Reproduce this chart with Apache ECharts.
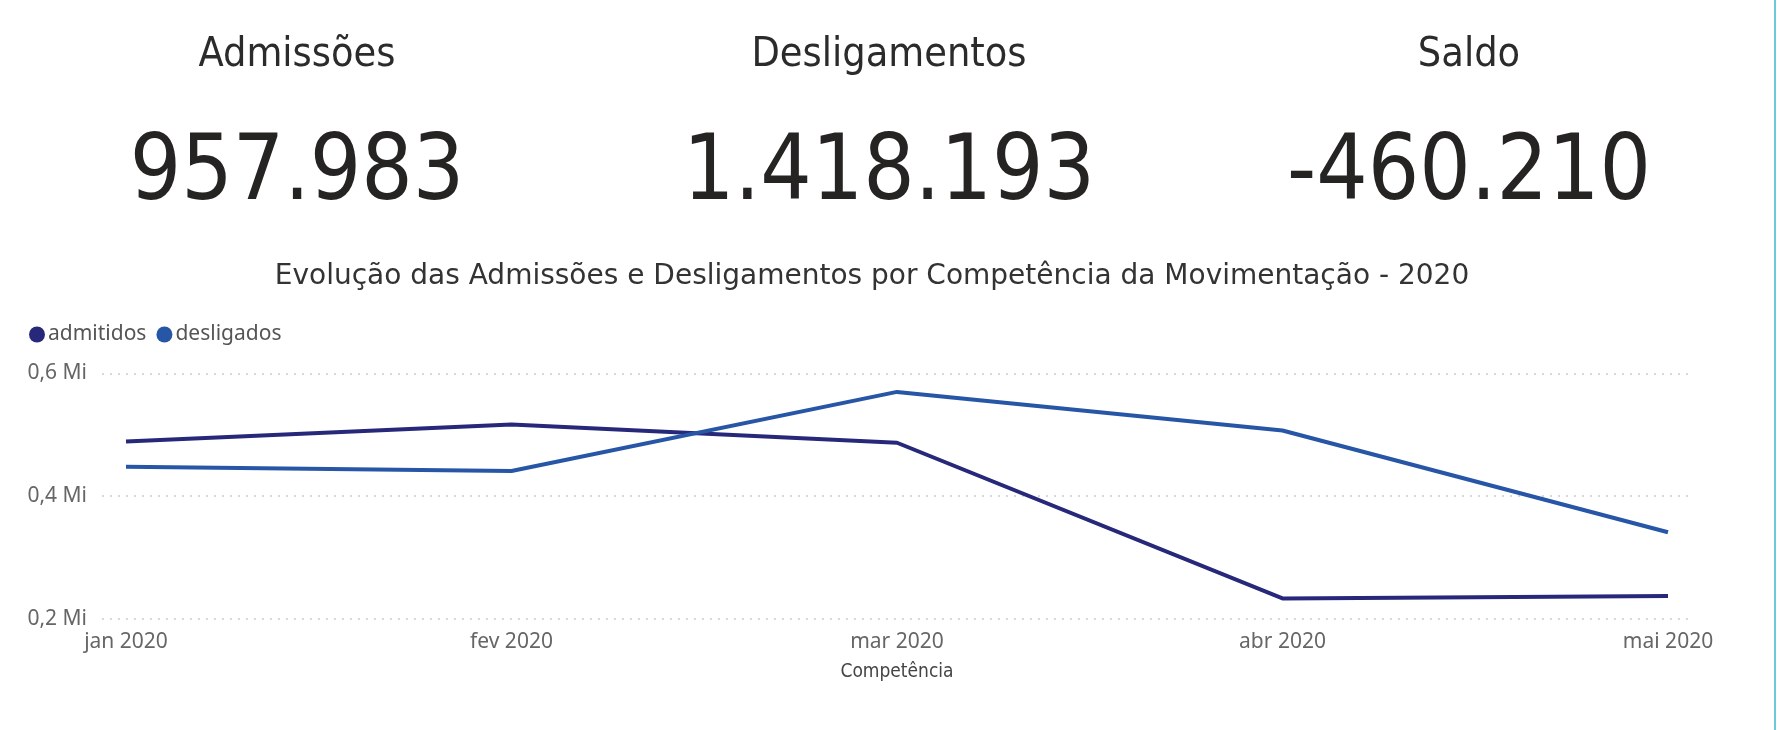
<!DOCTYPE html>
<html>
<head>
<meta charset="utf-8">
<script src="https://cdn.jsdelivr.net/npm/echarts@6/dist/echarts.min.js"></script>
<style>
  html, body { margin: 0; padding: 0; background: #ffffff; }
  #chart { width: 1780px; height: 730px; }
</style>
</head>
<body>
<div id="chart"></div>
<script>
// dados do gráfico
const months = ['jan 2020', 'fev 2020', 'mar 2020', 'abr 2020', 'mai 2020'];
const admitidos = [489000, 517000, 487000, 233000, 237000];
const desligados = [448000, 441000, 570000, 507000, 341000];
const seriesNames = ['admitidos', 'desligados'];
const kpiLabels = ['Admissões', 'Desligamentos', 'Saldo'];
const kpiValues = ['957.983', '1.418.193', '-460.210'];
const yMin = 200000, yMax = 600000, yStep = 200000;

const kpiX = [297, 889, 1469];
const condFont = '"DejaVu Sans Condensed", "DejaVu Sans", sans-serif';
const wideFont = '"DejaVu Sans", sans-serif';
const labelFont = '"Noto Sans", "Open Sans", sans-serif';
const colors = ['#27287a', '#2756a6'];

function fmtMi(v) {
  return (v / 1e6).toFixed(1).replace('.', ',') + ' Mi';
}

const chart = echarts.init(document.getElementById('chart'), null, { renderer: 'canvas' });

// textos dos cartões (KPIs)
let graphics = [];
for (let i = 0; i < kpiLabels.length; i++) {
  graphics.push({
    type: 'text', x: kpiX[i], y: 55,
    style: { text: kpiLabels[i], font: '41px ' + condFont, fill: '#2b2b2b', textAlign: 'center', textVerticalAlign: 'middle' }
  });
  graphics.push({
    type: 'text', x: kpiX[i], y: 176,
    style: { text: kpiValues[i], font: '90px ' + condFont, fill: '#252423', textAlign: 'center', textVerticalAlign: 'middle' }
  });
}
graphics.push({
  type: 'text', x: 872, y: 277,
  style: { text: 'Evolução das Admissões e Desligamentos por Competência da Movimentação - 2020', font: '28px ' + wideFont, fill: '#333333', textAlign: 'center', textVerticalAlign: 'middle' }
});
graphics.push({
  type: 'rect', shape: { x: 1774, y: 0, width: 2, height: 730 },
  style: { fill: '#6cc9d6' }
});

const option = {
  backgroundColor: '#ffffff',
  color: colors,
  animation: false,
  graphic: graphics,
  legend: {
    left: 24,
    top: 319,
    icon: 'circle',
    itemWidth: 16,
    itemHeight: 16,
    itemGap: 10,
    data: seriesNames,
    textStyle: { fontFamily: labelFont, fontSize: 21, color: '#555555', padding: [0, 0, 0, -2] }
  },
  grid: [
    { left: 126, right: 112, top: 373.5, bottom: 111.3 },
    { left: 102, right: 89, top: 373.5, bottom: 111.3 }
  ],
  xAxis: [
    {
      type: 'category',
      gridIndex: 0,
      data: months,
      boundaryGap: false,
      axisLine: { show: false },
      axisTick: { show: false },
      axisLabel: { fontFamily: labelFont, fontSize: 21, color: '#666666', margin: 13 },
      name: 'Competência',
      nameLocation: 'middle',
      nameGap: 44,
      nameTextStyle: { fontFamily: condFont, fontSize: 19, color: '#444444' }
    },
    { type: 'value', gridIndex: 1, show: false }
  ],
  yAxis: [
    {
      type: 'value',
      gridIndex: 0,
      min: yMin, max: yMax, interval: yStep,
      axisLine: { show: false },
      axisTick: { show: false },
      splitLine: { show: false },
      axisLabel: { fontFamily: labelFont, fontSize: 21, color: '#666666', margin: 39, formatter: fmtMi }
    },
    {
      type: 'value',
      gridIndex: 1,
      min: yMin, max: yMax, interval: yStep,
      axisLine: { show: false },
      axisTick: { show: false },
      axisLabel: { show: false },
      splitLine: { lineStyle: { color: '#cccccc', width: 1.5, type: [2, 6] } }
    }
  ],
  series: [
    {
      name: seriesNames[0], type: 'line', data: admitidos,
      xAxisIndex: 0, yAxisIndex: 0,
      showSymbol: false, lineStyle: { width: 4, color: colors[0] }
    },
    {
      name: seriesNames[1], type: 'line', data: desligados,
      xAxisIndex: 0, yAxisIndex: 0,
      showSymbol: false, lineStyle: { width: 4, color: colors[1] }
    }
  ]
};

chart.setOption(option);
</script>
</body>
</html>
